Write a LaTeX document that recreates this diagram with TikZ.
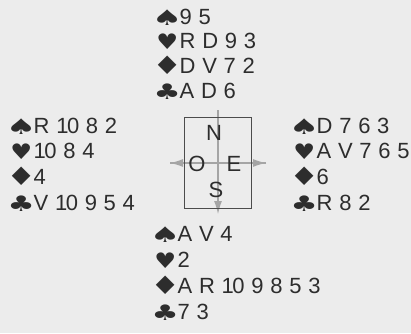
\documentclass[tikz,border=0pt]{standalone}
\usepackage{fontspec}
\usepackage{graphicx}
\setmainfont{Liberation Sans}
\newfontfamily\cardfont{Liberation Sans}[WordSpace=1.1]
\newfontfamily\suitfont{DejaVu Sans}
\usetikzlibrary{arrows.meta}
\definecolor{bgc}{RGB}{236,236,236}
\definecolor{txt}{RGB}{45,45,45}
\definecolor{cmp}{RGB}{165,165,165}
\newcommand\suitbox[3]{\makebox[20pt][c]{\raisebox{-1pt}{\scalebox{#2}[#3]{\suitfont\fontsize{19.5}{20}\selectfont #1}}}\hspace{2.5pt}}
\newcommand\Sp{\suitbox{♠}{1.75}{1.1}}
\newcommand\He{\suitbox{♥}{1.25}{1.1}}
\newcommand\Di{\suitbox{♦}{1.7}{1.3}}
\newcommand\Cl{\suitbox{♣}{1.55}{1.1}}
\newcommand\T{1\kern-1.5pt 0}
\tikzset{
  card/.style={anchor=base west, inner sep=0pt, text=txt, font=\cardfont\fontsize{22}{24}\selectfont},
  dir/.style={anchor=center, inner sep=0pt, text=txt, font=\fontsize{22}{24}\selectfont},
  carrow/.style={-{Latex[length=13pt,width=8pt]}, draw=cmp, line width=1.2pt}
}
\begin{document}
\begin{tikzpicture}[x=1pt,y=-1pt]
\fill[bgc] (0,0) rectangle (411,333);
\useasboundingbox (0,0) rectangle (411,333);
% North
\node[card] (n1) at (157,24) {\Sp 9 5};
\node[card] (n2) at (157,48) {\He R D 9 3};
\node[card] (n3) at (157,73) {\Di D V 7 2};
\node[card] (n4) at (157,98) {\Cl A D 6};
% West
\node[card] (w1) at (11,133) {\Sp R \T{} 8 2};
\node[card] (w2) at (11,158) {\He \T{} 8 4};
\node[card] (w3) at (11,184) {\Di 4};
\node[card] (w4) at (11,210) {\Cl V \T{} 9 5 4};
% East
\node[card] (e1) at (294,133) {\Sp D 7 6 3};
\node[card] (e2) at (294,158) {\He A V 7 6 5};
\node[card] (e3) at (294,184) {\Di 6};
\node[card] (e4) at (294,210) {\Cl R 8 2};
% South
\node[card] (s1) at (155,241) {\Sp A V 4};
\node[card] (s2) at (155,267) {\He 2};
\node[card] (s3) at (155,293) {\Di A R \T{} 9 8 5 3};
\node[card] (s4) at (155,319) {\Cl 7 3};
% Compass
\coordinate (ct) at (218,110);
\coordinate (cb) at (218,214);
\coordinate (cl) at (170,163);
\coordinate (cr) at (266,163);
\draw[carrow] (ct) -- (cb);
\draw[carrow] (cr) -- (cl);
\draw[carrow] (cl) -- (cr);
\node[draw=txt!85, line width=0.8pt, minimum width=67pt, minimum height=91pt, inner sep=0pt] (box) at (217.5,162.5) {};
\node[dir] (dn) at (214,133) {N};
\node[dir] (dw) at (197,164) {O};
\node[dir] (de) at (234,164) {E};
\node[dir] (ds) at (216,190) {S};
\end{tikzpicture}
\end{document}
